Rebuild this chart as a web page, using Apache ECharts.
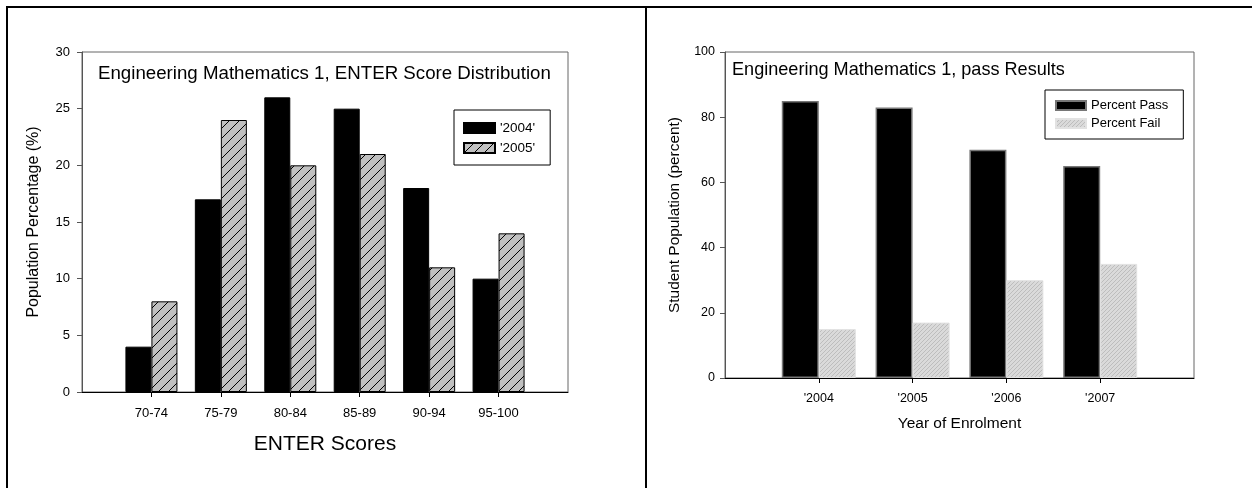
<!DOCTYPE html>
<html>
<head>
<meta charset="utf-8">
<script src="https://cdn.jsdelivr.net/npm/echarts@6/dist/echarts.min.js"></script>
<style>
  html, body { margin: 0; padding: 0; background: #fff; }
  #wrap { position: relative; width: 1252px; height: 488px; overflow: hidden; }
  #chart { position: absolute; left: 0; top: 0; width: 1252px; height: 488px; }
  .ln { position: absolute; background: #000; }
</style>
</head>
<body>
<div id="wrap">
  <div id="chart"></div>
  <div class="ln" style="left:6px;top:6px;width:1246px;height:2px;"></div>
  <div class="ln" style="left:6px;top:6px;width:2px;height:482px;"></div>
  <div class="ln" style="left:645px;top:6px;width:2px;height:482px;"></div>
</div>
<script>
// ---- Left chart data ----
const scoreCategories = ['70-74', '75-79', '80-84', '85-89', '90-94', '95-100'];
const scores2004 = [4, 17, 26, 25, 18, 10];
const scores2005 = [8, 24, 20, 21, 11, 14];
const scoreTicks = [0, 5, 10, 15, 20, 25, 30];

// ---- Right chart data ----
const yearCategories = ["'2004", "'2005", "'2006", "'2007"];
const percentPass = [85, 83, 70, 65];
const percentFail = [15, 17, 30, 35];
const passTicks = [0, 20, 40, 60, 80, 100];

function makePattern(size, bg, lineColor, lineWidth) {
  const c = document.createElement('canvas');
  c.width = size; c.height = size;
  const g = c.getContext('2d');
  g.fillStyle = bg; g.fillRect(0, 0, size, size);
  g.strokeStyle = lineColor; g.lineWidth = lineWidth;
  g.beginPath();
  g.moveTo(0, size); g.lineTo(size, 0);
  g.moveTo(-1, 1); g.lineTo(1, -1);
  g.moveTo(size - 1, size + 1); g.lineTo(size + 1, size - 1);
  g.stroke();
  return { image: c, repeat: 'repeat' };
}

const hatchLeft = makePattern(10, '#c0c0c0', '#000', 1);
const hatchRight = makePattern(4, '#dadada', '#bdbdbd', 1);

// pad categories so that the axis spans one empty slot on each side
const leftAxisData = [''].concat(scoreCategories, ['']);
const rightAxisData = [''].concat(yearCategories, ['']);
const pad = arr => ['-'].concat(arr, ['-']);

const FONT = '"Liberation Sans", Arial, sans-serif';

const chart = echarts.init(document.getElementById('chart'), null, { renderer: 'canvas' });

chart.setOption({
  animation: false,
  backgroundColor: '#fff',
  textStyle: { fontFamily: FONT },
  grid: [
    { left: 82, right: 1252 - 568, top: 52, bottom: 488 - 392, show: true, borderColor: '#666', borderWidth: 1, backgroundColor: 'transparent' },
    { left: 725, right: 1252 - 1194, top: 52, bottom: 488 - 378, show: true, borderColor: '#666', borderWidth: 1, backgroundColor: 'transparent' }
  ],
  xAxis: [
    {
      gridIndex: 0, type: 'category', data: leftAxisData, boundaryGap: false,
      name: 'ENTER Scores', nameLocation: 'middle', nameGap: 42,
      nameTextStyle: { color: '#000', fontFamily: FONT, fontSize: 21 },
      axisLine: { lineStyle: { color: '#000', width: 1 } },
      axisTick: { length: 5, lineStyle: { color: '#000' }, interval: (i) => i > 0 && i < leftAxisData.length - 1 },
      axisLabel: { margin: 15, interval: 0, color: '#000', fontFamily: FONT, fontSize: 13 },
      splitLine: { show: false }
    },
    {
      gridIndex: 1, type: 'category', data: rightAxisData, boundaryGap: false,
      name: 'Year of Enrolment', nameLocation: 'middle', nameGap: 38,
      nameTextStyle: { color: '#000', fontFamily: FONT, fontSize: 15.5 },
      axisLine: { lineStyle: { color: '#000', width: 1 } },
      axisTick: { length: 5, lineStyle: { color: '#000' }, interval: (i) => i > 0 && i < rightAxisData.length - 1 },
      axisLabel: { margin: 14, interval: 0, color: '#000', fontFamily: FONT, fontSize: 12.5 },
      splitLine: { show: false }
    }
  ],
  yAxis: [
    {
      gridIndex: 0, type: 'value', min: scoreTicks[0], max: scoreTicks[scoreTicks.length - 1], interval: scoreTicks[1] - scoreTicks[0],
      name: 'Population Percentage (%)', nameLocation: 'middle', nameGap: 40,
      nameTextStyle: { color: '#000', fontFamily: FONT, fontSize: 16 },
      axisLine: { show: true, lineStyle: { color: '#555', width: 1 } },
      axisTick: { show: true, length: 5, lineStyle: { color: '#555' } },
      axisLabel: { margin: 12, color: '#000', fontFamily: FONT, fontSize: 13 },
      splitLine: { show: false }
    },
    {
      gridIndex: 1, type: 'value', min: passTicks[0], max: passTicks[passTicks.length - 1], interval: passTicks[1] - passTicks[0],
      name: 'Student Population (percent)', nameLocation: 'middle', nameGap: 43,
      nameTextStyle: { color: '#000', fontFamily: FONT, fontSize: 15.4 },
      axisLine: { show: true, lineStyle: { color: '#555', width: 1 } },
      axisTick: { show: true, length: 5, lineStyle: { color: '#555' } },
      axisLabel: { margin: 10, color: '#000', fontFamily: FONT, fontSize: 12.5 },
      splitLine: { show: false }
    }
  ],
  legend: [
    {
      data: ["'2004'", "'2005'"], orient: 'vertical', left: 454, top: 110,
      padding: [11, 15, 10, 9], itemGap: 6, itemWidth: 31, itemHeight: 10, icon: 'rect',
      borderColor: '#000', borderWidth: 1, backgroundColor: '#fff',
      textStyle: { color: '#000', fontFamily: FONT, fontSize: 13.5 },
      selectedMode: false
    },
    {
      data: ['Percent Pass', 'Percent Fail'], orient: 'vertical', left: 1045, top: 90,
      padding: [9, 15, 9, 10], itemGap: 5, itemWidth: 30, itemHeight: 9, icon: 'rect',
      borderColor: '#000', borderWidth: 1, backgroundColor: '#fff',
      textStyle: { color: '#000', fontFamily: FONT, fontSize: 13 },
      selectedMode: false
    }
  ],
  graphic: [
    { type: 'text', left: 98, top: 64, style: { text: 'Engineering Mathematics 1, ENTER Score Distribution', fill: '#000', font: '18.7px ' + FONT } },
    { type: 'text', left: 732, top: 61, style: { text: 'Engineering Mathematics 1, pass Results', fill: '#000', font: '18.1px ' + FONT } }
  ],
  series: [
    {
      name: "'2004'", type: 'bar', xAxisIndex: 0, yAxisIndex: 0, data: pad(scores2004),
      barWidth: 26, barGap: '0%',
      itemStyle: { color: '#000', borderColor: '#000', borderWidth: 1 }
    },
    {
      name: "'2005'", type: 'bar', xAxisIndex: 0, yAxisIndex: 0, data: pad(scores2005),
      barWidth: 26, barGap: '0%',
      itemStyle: { color: hatchLeft, borderColor: '#000', borderWidth: 1 }
    },
    {
      name: 'Percent Pass', type: 'bar', xAxisIndex: 1, yAxisIndex: 1, data: pad(percentPass),
      barWidth: 37, barGap: '0%',
      itemStyle: { color: '#000', borderColor: '#777', borderWidth: 1.5 }
    },
    {
      name: 'Percent Fail', type: 'bar', xAxisIndex: 1, yAxisIndex: 1, data: pad(percentFail),
      barWidth: 37, barGap: '0%',
      itemStyle: { color: hatchRight, borderColor: '#e2e2e2', borderWidth: 1 }
    }
  ]
});
</script>
</body>
</html>
